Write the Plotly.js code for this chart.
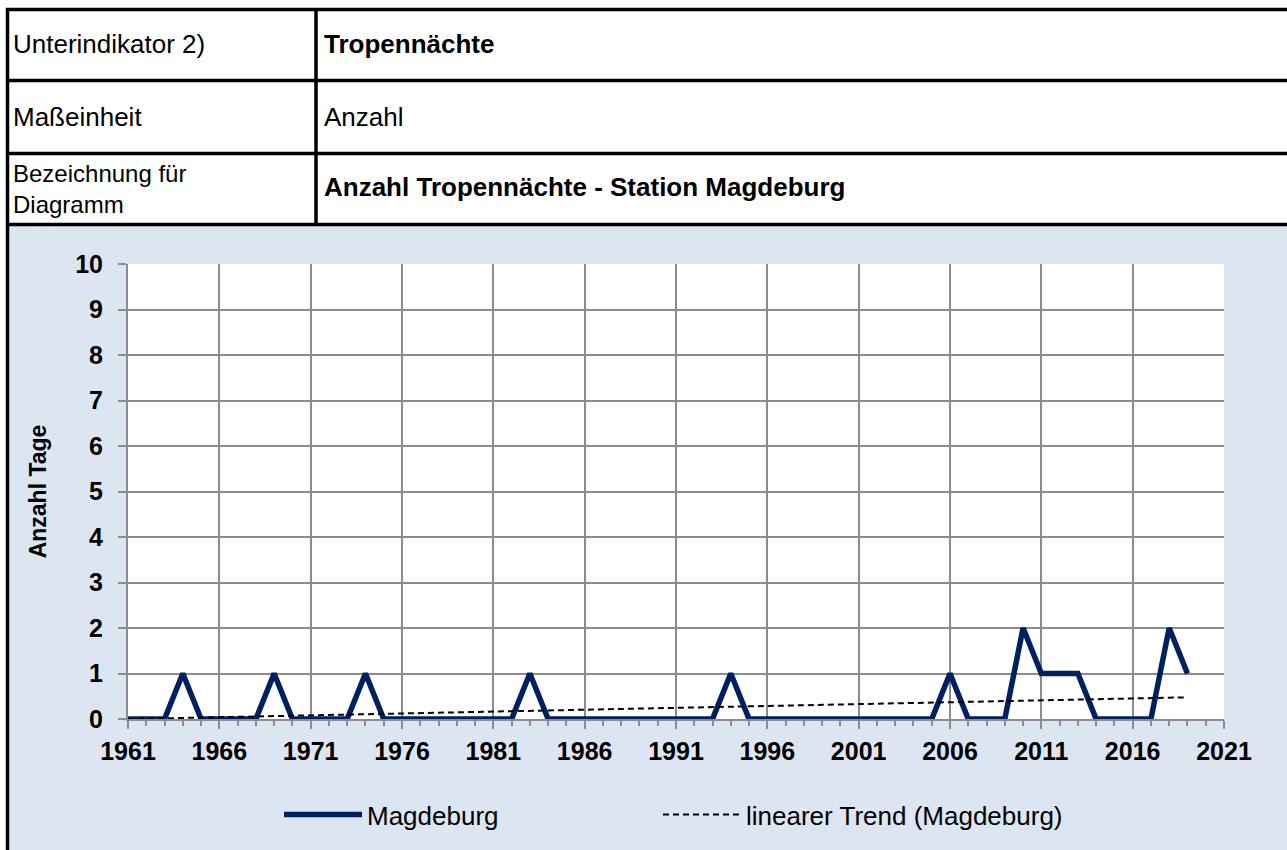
<!DOCTYPE html>
<html>
<head>
<meta charset="utf-8">
<script src="https://cdn.plot.ly/plotly-3.0.1.min.js"></script>
<style>
  html, body { margin: 0; padding: 0; background: #ffffff; }
  #chart { width: 1287px; height: 850px; }
</style>
</head>
<body>
<div id="chart"></div>
<script>
// ---- data ----
const years = [1961,1962,1963,1964,1965,1966,1967,1968,1969,1970,
               1971,1972,1973,1974,1975,1976,1977,1978,1979,1980,
               1981,1982,1983,1984,1985,1986,1987,1988,1989,1990,
               1991,1992,1993,1994,1995,1996,1997,1998,1999,2000,
               2001,2002,2003,2004,2005,2006,2007,2008,2009,2010,
               2011,2012,2013,2014,2015,2016,2017,2018,2019];
const magdeburg = [0,0,0,1,0,0,0,0,1,0,
                   0,0,0,1,0,0,0,0,0,0,
                   0,0,1,0,0,0,0,0,0,0,
                   0,0,0,1,0,0,0,0,0,0,
                   0,0,0,0,0,1,0,0,0,2,
                   1,1,1,0,0,0,0,2,1];
const trendYears = [1961, 2019];
const trendValues = [-0.002, 0.476];
const xTickVals = [1961,1966,1971,1976,1981,1986,1991,1996,2001,2006,2011,2016,2021];
const yTickVals = [0,1,2,3,4,5,6,7,8,9,10];

const seriesName = 'Magdeburg';
const trendName = 'linearer Trend (Magdeburg)';
const tableLabels = ['Unterindikator 2)', 'Maßeinheit', 'Bezeichnung für<br>Diagramm'];
const tableValues = ['Tropennächte', 'Anzahl', 'Anzahl Tropennächte - Station Magdeburg'];
const tableBold = [true, false, true];
const yTitle = 'Anzahl Tage';

// ---- layout helpers (pixel -> paper) ----
const W = 1287, H = 850;
const PL = 128, PR = 1224, PT = 264, PB = 719;
const px = x => (x - PL) / (PR - PL);
const py = y => (PB - y) / (PB - PT);

const FONT = 'Liberation Sans, Arial, Helvetica, sans-serif';
const BLUE = '#dce6f2';
const GRID = '#8c8c8c';
const NAVY = '#002060';

const traces = [
  {
    x: years, y: magdeburg, name: seriesName, type: 'scatter', mode: 'lines',
    line: { color: NAVY, width: 5.5 }, cliponaxis: false, legend: 'legend'
  },
  {
    x: trendYears, y: trendValues, name: trendName, type: 'scatter', mode: 'lines',
    line: { color: '#000000', width: 2, dash: '6px,4px' }, cliponaxis: false, legend: 'legend2'
  }
];

const shapes = [];
// white table area and left white strip
shapes.push({ type: 'rect', xref: 'paper', yref: 'paper', x0: px(0), x1: px(W), y0: py(0), y1: py(225),
  fillcolor: '#ffffff', line: { width: 0 }, layer: 'below' });
shapes.push({ type: 'rect', xref: 'paper', yref: 'paper', x0: px(0), x1: px(6), y0: py(0), y1: py(H),
  fillcolor: '#ffffff', line: { width: 0 }, layer: 'below' });
// table lines
const hl = [9.5, 80.5, 153.5, 224.5];
hl.forEach(y => shapes.push({ type: 'line', xref: 'paper', yref: 'paper',
  x0: px(6), x1: px(W + 5), y0: py(y), y1: py(y), line: { color: '#000', width: 3.5 } }));
shapes.push({ type: 'line', xref: 'paper', yref: 'paper', x0: px(7.5), x1: px(7.5), y0: py(8), y1: py(H + 5),
  line: { color: '#000', width: 3.5 } });
shapes.push({ type: 'line', xref: 'paper', yref: 'paper', x0: px(316), x1: px(316), y0: py(8), y1: py(226),
  line: { color: '#000', width: 3.5 } });

const annotations = [];
const rowCenters = [44, 117, 189];
function cell(text, x, y, bold, size) {
  annotations.push({ xref: 'paper', yref: 'paper', x: px(x), y: py(y), xanchor: 'left', yanchor: 'middle',
    align: 'left', text: bold ? '<b>' + text + '</b>' : text, showarrow: false,
    font: { family: FONT, size: size, color: '#000' } });
}
tableLabels.forEach((t, i) => cell(t, 11, rowCenters[i], false, i === 2 ? 24 : 26));
tableValues.forEach((t, i) => cell(t, 322, rowCenters[i] - (i === 2 ? 2 : 0), tableBold[i], 26));

const legendBase = {
  orientation: 'h', yanchor: 'top', xanchor: 'left', y: py(791),
  bgcolor: 'rgba(0,0,0,0)', font: { family: FONT, size: 26, color: '#000' },
  itemwidth: 78, itemclick: false, itemdoubleclick: false
};

const layout = {
  width: W, height: H,
  margin: { l: PL, r: W - PR, t: PT, b: H - PB, pad: 0 },
  paper_bgcolor: BLUE,
  plot_bgcolor: '#ffffff',
  font: { family: FONT, color: '#000' },
  showlegend: true,
  legend: Object.assign({}, legendBase, { x: px(279) }),
  legend2: Object.assign({}, legendBase, { x: px(658) }),
  xaxis: {
    range: [1961, 2021], tickmode: 'array', tickvals: xTickVals,
    showgrid: true, gridcolor: GRID, gridwidth: 2,
    showline: true, linecolor: GRID, linewidth: 2,
    ticks: 'outside', ticklen: 8, tickwidth: 2, tickcolor: GRID,
    minor: { dtick: 1, tick0: 1961, ticks: 'outside', ticklen: 5, tickwidth: 2, tickcolor: GRID, showgrid: false },
    tickfont: { family: FONT, size: 25, color: '#000', weight: 'bold' },
    zeroline: false, fixedrange: true, ticklabelstandoff: 1
  },
  yaxis: {
    range: [0, 10], tickmode: 'array', tickvals: yTickVals,
    showgrid: true, gridcolor: GRID, gridwidth: 2,
    showline: true, linecolor: GRID, linewidth: 2,
    ticks: 'outside', ticklen: 8, tickwidth: 2, tickcolor: GRID,
    tickfont: { family: FONT, size: 25, color: '#000', weight: 'bold' },
    title: { text: yTitle, font: { family: FONT, size: 23, color: '#000', weight: 'bold' }, standoff: 22 },
    zeroline: false, fixedrange: true, ticklabelstandoff: 10
  },
  shapes: shapes,
  annotations: annotations
};

Plotly.newPlot('chart', traces, layout, { displayModeBar: false });
</script>
</body>
</html>
